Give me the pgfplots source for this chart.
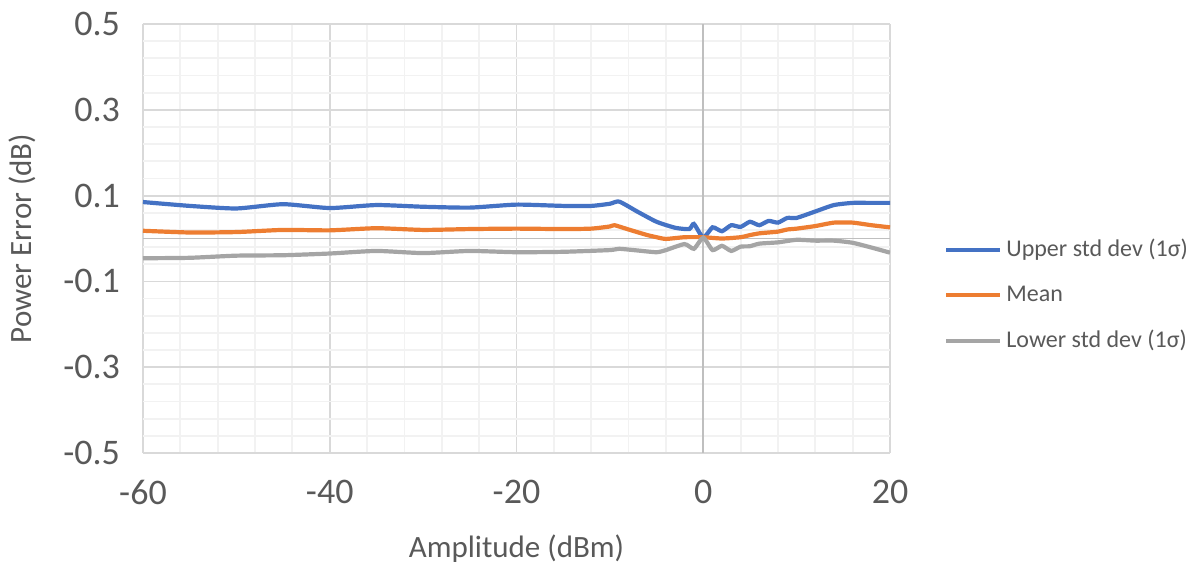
\documentclass[border=0pt]{standalone}
\usepackage{pgfplots}
\pgfplotsset{compat=1.18}
\usepackage{fontspec}
\setmainfont{Carlito}
\definecolor{cblue}{RGB}{68,114,196}
\definecolor{corange}{RGB}{237,125,49}
\definecolor{cgray}{RGB}{165,165,165}
\definecolor{ctext}{RGB}{89,89,89}
\begin{document}
\begin{tikzpicture}
% invisible frame to fix the page size (1200x569 px at 0.5pt/px)
\path (-71.5pt,12pt) rectangle (528.5pt,-272.5pt);
\begin{axis}[
  at={(0,0)}, anchor=north west,
  width=373.5pt, height=214.5pt, scale only axis,
  xmin=-60, xmax=20, ymin=-0.5, ymax=0.5,
  xtick={-60,-40,-20,0,20},
  ytick={-0.5,-0.3,-0.1,0.1,0.3,0.5},
  minor x tick num=4, minor y tick num=4,
  extra x ticks={0}, extra y ticks={0},
  extra x tick labels={}, extra y tick labels={},
  extra tick style={major grid style={draw=black!25,line width=0.9pt}},
  grid=both,
  major grid style={draw=black!15,line width=0.9pt},
  minor grid style={draw=black!5,line width=0.9pt},
  axis line style={draw=none},
  tick style={draw=none},
  /pgf/number format/assume math mode=true,
  yticklabel style={/pgf/number format/fixed,/pgf/number format/fixed zerofill,/pgf/number format/precision=1},
  ticklabel style={font=\fontsize{18}{20}\selectfont, text=ctext},
  xticklabel style={yshift=-10pt},
  yticklabel style={xshift=-8pt},
  xlabel={Amplitude (dBm)}, ylabel={Power Error (dB)},
  label style={font=\fontsize{15.5}{18}\selectfont, text=ctext},
  xlabel style={yshift=-8pt},
  ylabel style={yshift=7pt},
  legend style={at={(axis description cs:1.072,0.368)}, anchor=west,
    draw=none, fill=none, font=\fontsize{12}{14}\selectfont, text=ctext,
    row sep=9pt, inner sep=0pt},
  legend cell align=left,
  legend image code/.code={\draw[#1,line width=2.1pt] (0pt,0pt) -- (27pt,0pt);},
  every axis plot/.append style={line width=2.1pt, smooth, tension=0.35},
]
\addplot[cblue] coordinates {
(-60,0.085)(-55,0.076)(-50,0.070)(-45,0.080)(-40,0.071)(-35,0.078)(-30,0.074)(-25,0.072)
(-20,0.079)(-15,0.076)(-12,0.076)(-10,0.081)(-9,0.086)(-7,0.062)(-5,0.039)(-3,0.025)
(-1.5,0.022)(-1,0.034)(0,0.002)(1,0.026)(2,0.017)(3,0.031)(4,0.027)(5,0.039)(6,0.031)
(7,0.041)(8,0.037)(9,0.048)(10,0.048)(12,0.063)(14,0.078)(16,0.083)(18,0.083)(20,0.083)};
\addlegendentry{Upper std dev (1σ)}
\addplot[corange] coordinates {
(-60,0.018)(-55,0.014)(-50,0.015)(-45,0.020)(-40,0.019)(-35,0.024)(-30,0.020)(-25,0.022)
(-20,0.023)(-15,0.022)(-12,0.023)(-10,0.028)(-9.5,0.031)(-8,0.021)(-6,0.008)(-5,0.003)
(-4,-0.001)(-2,0.003)(0,0.003)(2,0.000)(4,0.003)(5,0.008)(6,0.012)(7,0.014)(8,0.016)
(9,0.021)(10,0.023)(12,0.029)(14,0.037)(16,0.037)(18,0.031)(20,0.026)};
\addlegendentry{Mean}
\addplot[cgray] coordinates {
(-60,-0.046)(-55,-0.045)(-50,-0.040)(-45,-0.039)(-40,-0.035)(-35,-0.029)(-30,-0.034)
(-25,-0.029)(-20,-0.032)(-15,-0.031)(-10,-0.027)(-9,-0.024)(-7,-0.028)(-5,-0.032)
(-4,-0.027)(-2,-0.013)(-1,-0.024)(0,0.002)(1,-0.027)(2,-0.017)(3,-0.029)(4,-0.019)
(5,-0.018)(6,-0.012)(8,-0.009)(10,-0.003)(12,-0.005)(14,-0.005)(16,-0.010)(18,-0.021)(20,-0.033)};
\addlegendentry{Lower std dev (1σ)}
\end{axis}
\end{tikzpicture}
\end{document}
